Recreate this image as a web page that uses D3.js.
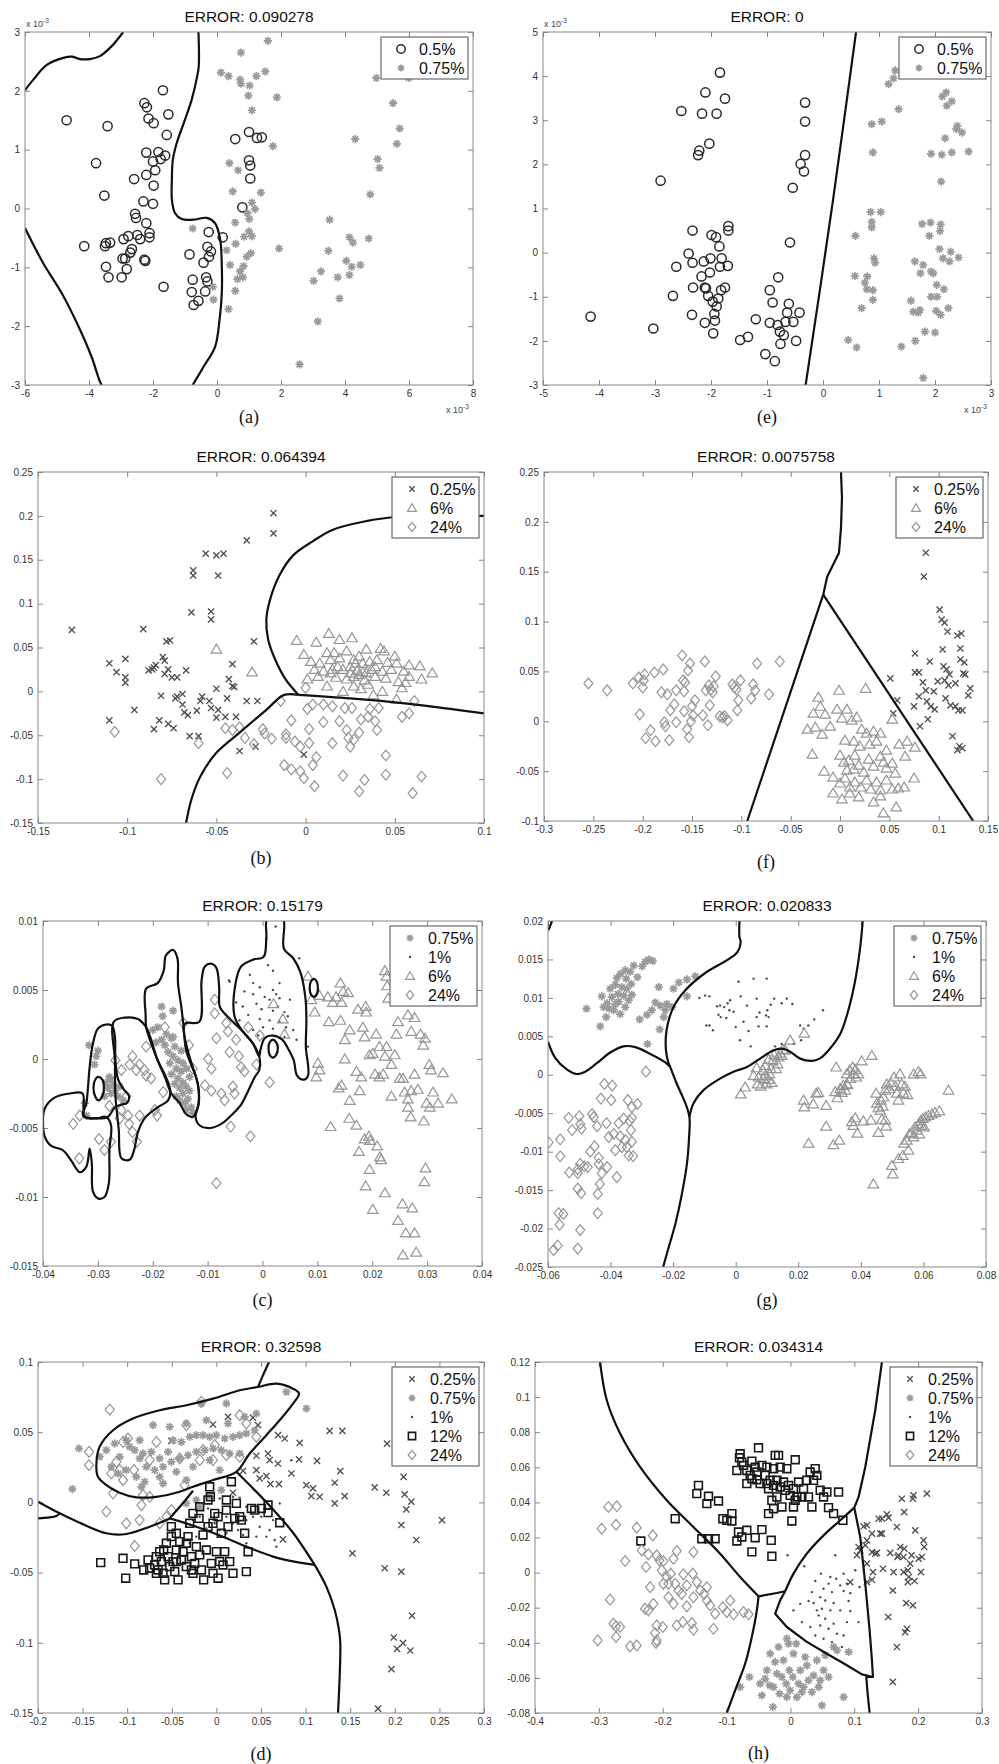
<!DOCTYPE html>
<html><head><meta charset="utf-8">
<script src="https://cdn.jsdelivr.net/npm/d3@7"></script>
<style>body{margin:0;background:#fff}svg{display:block}</style>
</head><body>
<svg id="chart" width="999" height="1764"></svg>
<script>
// ---------------- (a) ----------------
const aXTicks=[-6,-4,-2,0,2,4,6,8];
const aYTicks=[-3,-2,-1,0,1,2,3];
const aCircle=[[-4.70,1.50],[-3.42,1.40],[-3.78,0.77],[-3.52,0.22],[-4.15,-0.64],[-3.47,-0.59],[-3.50,-0.64],[-3.34,-0.58],[-3.47,-0.99],[-3.39,-1.17],[-2.98,-1.17],[-2.82,-1.03],[-2.95,-0.85],[-2.87,-0.85],[-2.92,-0.52],[-2.77,-0.47],[-2.71,-0.75],[-2.66,-0.69],[-2.59,0.50],[-2.56,-0.09],[-2.53,-0.16],[-2.49,-0.45],[-2.40,-0.52],[-2.30,0.12],[-2.27,1.79],[-2.19,1.72],[-2.14,1.53],[-2.21,0.95],[-2.21,0.57],[-2.21,-0.25],[-2.27,-0.87],[-2.24,-0.89],[-2.11,-0.42],[-2.11,-0.49],[-1.98,1.45],[-2.00,0.80],[-1.93,0.65],[-1.98,0.39],[-2.00,0.08],[-1.83,0.96],[-1.76,0.84],[-1.69,2.01],[-1.52,1.60],[-1.57,1.25],[-1.62,0.90],[-1.67,-1.33],[-0.86,-0.78],[-0.76,-1.21],[-0.79,-1.42],[-0.73,-1.64],[-0.58,-1.57],[-0.42,-0.92],[-0.37,-1.41],[-0.34,-1.17],[-0.30,-1.24],[-0.26,-0.40],[-0.30,-0.65],[-0.25,-0.82],[-0.19,-0.73],[0.18,-0.49],[0.57,1.18],[1.00,1.30],[1.25,1.20],[1.40,1.21],[1.00,0.82],[1.04,0.73],[1.04,0.51],[0.79,0.02]];
const aStar=[[0.75,2.65],[1.59,2.85],[0.12,2.31],[0.36,2.25],[0.72,2.19],[0.75,2.12],[1.02,2.09],[1.23,2.25],[1.51,2.33],[0.98,1.92],[1.87,1.89],[1.09,1.67],[1.75,1.06],[0.39,0.77],[0.66,0.65],[0.49,0.29],[1.37,0.27],[1.09,0.10],[1.19,-0.01],[0.95,-0.08],[1.01,-0.18],[0.57,-0.24],[-0.76,-0.34],[1.00,-0.39],[1.09,-0.47],[0.85,-0.48],[0.58,-0.60],[0.30,-0.71],[1.06,-0.76],[0.93,-0.82],[1.94,-0.68],[0.41,-0.96],[0.83,-0.98],[0.72,-1.07],[0.64,-1.20],[0.81,-1.17],[-0.13,-1.33],[-0.11,-1.55],[0.57,-1.40],[0.36,-1.71],[3.52,-0.19],[3.48,-0.72],[3.02,-1.23],[3.25,-1.07],[3.77,-1.17],[3.83,-1.53],[3.15,-1.92],[2.58,-2.65],[4.04,-0.89],[4.14,-0.49],[4.25,-0.58],[4.21,-0.99],[4.14,-1.13],[4.48,-0.96],[4.74,-0.51],[4.79,0.24],[4.32,1.18],[5.02,0.84],[5.08,0.69],[4.98,2.22],[5.50,1.79],[5.62,1.10],[5.71,1.36],[5.99,2.22]];
const aBound1=[[-6.0,2.01],[-5.74,2.19],[-5.32,2.44],[-4.80,2.56],[-4.54,2.58],[-4.28,2.54],[-3.97,2.54],[-3.66,2.59],[-3.29,2.76],[-2.93,3.0]];
const aBound2=[[-6.0,-0.33],[-5.43,-0.93],[-4.85,-1.44],[-4.28,-2.06],[-3.92,-2.52],[-3.66,-2.94],[-3.60,-3.0]];
const aBound3=[[-0.58,3.0],[-0.57,2.42],[-0.63,2.22],[-0.79,1.85],[-1.00,1.51],[-1.26,1.11],[-1.38,0.83],[-1.41,0.49],[-1.41,0.15],[-1.31,-0.08],[-1.10,-0.18],[-0.74,-0.19],[-0.32,-0.16],[-0.06,-0.25],[0.10,-0.53],[0.15,-0.99],[0.15,-1.44],[0.08,-1.89],[-0.06,-2.35],[-0.42,-2.69],[-0.76,-3.0]];

// ---------------- (e) ----------------
const eXTicks=[-5,-4,-3,-2,-1,0,1,2,3];
const eYTicks=[-3,-2,-1,0,1,2,3,4,5];
const eCircle=[[-4.15,-1.45],[-3.03,-1.72],[-2.90,1.63],[-2.68,-0.98],[-2.53,3.21],[-2.62,-0.32],[-2.40,-0.02],[-2.33,0.50],[-2.33,-0.23],[-2.32,-0.79],[-2.34,-1.41],[-2.21,2.31],[-2.23,2.21],[-2.17,-0.54],[-2.16,3.15],[-2.10,3.63],[-2.13,-0.20],[-2.11,-0.79],[-2.09,-0.81],[-2.11,-1.59],[-2.03,2.47],[-2.01,-0.13],[-2.02,-0.45],[-2.05,-0.98],[-1.99,0.40],[-1.97,-1.11],[-1.96,-1.83],[-1.94,-1.39],[-1.93,-1.54],[-1.90,3.15],[-1.91,0.35],[-1.90,-1.22],[-1.87,-1.04],[-1.85,0.14],[-1.84,4.08],[-1.84,-0.32],[-1.81,-0.13],[-1.82,-0.85],[-1.75,3.49],[-1.75,-0.79],[-1.70,-0.30],[-1.69,0.60],[-1.69,0.50],[-1.48,-1.98],[-1.34,-1.91],[-1.20,-1.51],[-1.03,-2.30],[-0.95,-0.85],[-0.95,-1.59],[-0.90,-1.13],[-0.86,-2.46],[-0.80,-0.56],[-0.81,-1.64],[-0.77,-1.79],[-0.76,-2.07],[-0.70,-1.87],[-0.67,-1.57],[-0.64,-1.36],[-0.61,-1.16],[-0.59,0.23],[-0.54,1.47],[-0.53,-1.57],[-0.48,-2.00],[-0.42,-1.36],[-0.40,2.01],[-0.34,1.84],[-0.32,2.21],[-0.32,2.97],[-0.32,3.40]];
const eStar=[[0.45,-1.98],[0.60,-2.15],[0.58,0.38],[0.57,-0.53],[0.69,-1.26],[0.75,-0.68],[0.79,-0.54],[0.78,-0.83],[0.85,0.92],[0.87,0.70],[0.87,0.57],[0.87,2.91],[0.89,2.27],[0.89,-0.85],[0.89,-1.07],[0.91,-0.13],[0.93,-0.23],[1.03,0.92],[1.05,2.97],[1.17,3.82],[1.26,3.95],[1.29,4.13],[1.35,3.25],[1.40,-2.13],[1.57,-1.09],[1.61,-1.34],[1.64,-0.20],[1.65,-2.00],[1.70,-1.36],[1.73,-1.30],[1.74,-0.47],[1.77,0.65],[1.79,-0.28],[1.79,-2.84],[1.82,-1.79],[1.90,0.38],[1.92,0.68],[1.93,2.24],[1.93,-1.00],[1.93,-0.43],[1.97,-0.47],[2.00,-1.81],[2.02,-1.32],[2.03,-0.73],[2.04,-1.00],[2.08,0.08],[2.09,0.49],[2.10,0.64],[2.11,1.61],[2.12,2.22],[2.10,-1.41],[2.13,3.54],[2.14,-0.13],[2.16,-0.83],[2.18,2.59],[2.20,3.63],[2.21,3.33],[2.24,-1.26],[2.26,-0.20],[2.28,0.02],[2.30,2.27],[2.30,3.43],[2.38,2.80],[2.40,2.87],[2.42,-0.11],[2.48,2.72],[2.60,2.29]];
const eBound=[[-0.31,-3],[-0.05,-0.8],[0.18,1.2],[0.43,3.5],[0.59,5]];

// ---------------- (b) ----------------
const bXTicks=[-0.15,-0.1,-0.05,0,0.05,0.1];
const bYTicks=[-0.15,-0.1,-0.05,0,0.05,0.1,0.15,0.2,0.25];
const bCross=[[-0.131,0.070],[-0.110,0.032],[-0.110,-0.033],[-0.106,0.022],[-0.101,0.037],[-0.101,0.016],[-0.101,0.010],[-0.096,-0.021],[-0.091,0.071],[-0.088,0.024],[-0.086,0.025],[-0.085,0.027],[-0.085,-0.043],[-0.084,0.030],[-0.082,-0.033],[-0.081,-0.005],[-0.080,0.039],[-0.079,0.035],[-0.079,0.020],[-0.078,0.057],[-0.076,0.058],[-0.077,0.025],[-0.077,-0.037],[-0.075,0.016],[-0.074,-0.042],[-0.073,-0.008],[-0.072,0.016],[-0.072,-0.006],[-0.069,-0.003],[-0.069,-0.015],[-0.068,-0.024],[-0.067,0.024],[-0.066,-0.027],[-0.065,-0.051],[-0.063,0.138],[-0.063,0.132],[-0.064,0.090],[-0.061,-0.022],[-0.060,-0.051],[-0.059,-0.011],[-0.058,-0.006],[-0.056,0.157],[-0.054,-0.011],[-0.053,-0.019],[-0.053,0.091],[-0.053,0.082],[-0.050,0.003],[-0.050,0.155],[-0.050,-0.030],[-0.049,-0.021],[-0.049,0.132],[-0.046,0.157],[-0.045,-0.029],[-0.044,-0.008],[-0.043,0.014],[-0.041,0.031],[-0.041,0.006],[-0.040,0.005],[-0.039,-0.029],[-0.037,-0.068],[-0.033,0.172],[-0.033,-0.011],[-0.029,0.057],[-0.028,-0.063],[-0.027,-0.011],[-0.018,0.180],[-0.018,0.203],[-0.001,-0.072]];
const bTri=[[-0.050,0.048],[-0.030,0.022],[-0.005,0.058],[-0.001,0.042],[0.006,0.056],[0.013,0.066],[0.019,0.059],[0.026,0.061],[0.012,0.044],[0.016,0.044],[0.023,0.046],[0.034,0.048],[0.042,0.049],[0.044,0.046],[0.003,0.034],[0.008,0.032],[0.014,0.036],[0.019,0.038],[0.027,0.036],[0.030,0.040],[0.036,0.034],[0.040,0.036],[0.046,0.033],[0.051,0.032],[0.058,0.030],[0.064,0.029],[0.005,0.025],[0.010,0.023],[0.015,0.025],[0.021,0.025],[0.025,0.028],[0.029,0.024],[0.032,0.022],[0.037,0.025],[0.043,0.023],[0.048,0.025],[0.055,0.023],[0.071,0.021],[0.001,0.014],[0.007,0.017],[0.012,0.006],[0.017,0.016],[0.023,0.014],[0.027,0.017],[0.033,0.013],[0.039,0.017],[0.045,0.015],[0.052,0.011],[0.056,0.010],[0.065,0.014],[0.021,0.000],[0.027,0.006],[0.031,0.003],[0.035,0.008],[0.038,-0.004],[0.043,0.000],[0.051,-0.009],[0.054,0.004],[0.030,0.019],[0.034,0.021],[0.025,0.021],[0.014,0.021],[0.018,0.028],[0.032,0.032],[0.028,0.032],[0.039,0.028],[0.050,0.040],[0.058,0.017]];
const bDiam=[[-0.107,-0.046],[-0.081,-0.100],[-0.060,-0.059],[-0.045,-0.042],[-0.044,-0.093],[-0.041,-0.044],[-0.037,-0.041],[-0.034,-0.053],[-0.029,-0.060],[-0.024,-0.043],[-0.023,-0.048],[-0.019,-0.054],[-0.014,-0.011],[-0.011,-0.049],[-0.011,-0.053],[-0.008,-0.033],[-0.012,-0.084],[-0.008,-0.089],[-0.006,-0.057],[-0.003,-0.091],[-0.001,-0.099],[-0.003,-0.063],[0.000,0.004],[0.001,-0.020],[0.002,-0.043],[0.002,-0.059],[0.004,-0.015],[0.004,-0.084],[0.005,-0.108],[0.006,-0.075],[0.010,-0.035],[0.010,-0.015],[0.015,-0.017],[0.015,-0.059],[0.019,-0.034],[0.021,-0.096],[0.022,-0.019],[0.023,-0.044],[0.024,-0.053],[0.025,-0.063],[0.026,-0.019],[0.027,-0.055],[0.030,-0.047],[0.030,-0.114],[0.031,-0.032],[0.033,-0.101],[0.035,-0.029],[0.036,-0.020],[0.039,-0.034],[0.040,-0.044],[0.041,-0.019],[0.045,-0.073],[0.045,-0.095],[0.054,-0.029],[0.058,-0.025],[0.061,-0.011],[0.060,-0.116],[0.065,-0.097]];
const bBoundArc=[[0.100,0.200],[0.071,0.200],[0.060,0.200],[0.051,0.199],[0.034,0.194],[0.015,0.184],[0.004,0.171],[-0.007,0.155],[-0.015,0.131],[-0.020,0.104],[-0.022,0.082],[-0.021,0.059],[-0.017,0.036],[-0.011,0.013],[-0.004,-0.004]];
const bBoundRight=[[-0.004,-0.004],[0.025,-0.008],[0.053,-0.013],[0.081,-0.020],[0.100,-0.025]];
const bBoundLeft=[[-0.004,-0.004],[-0.012,-0.004],[-0.022,-0.021],[-0.037,-0.047],[-0.050,-0.070],[-0.059,-0.097],[-0.064,-0.123],[-0.067,-0.150]];

// ---------------- (f) ----------------
const fXTicks=[-0.3,-0.25,-0.2,-0.15,-0.1,-0.05,0,0.05,0.1,0.15];
const fYTicks=[-0.1,-0.05,0,0.05,0.1,0.15,0.2,0.25];
const fCross=[[0.051,0.043],[0.054,0.008],[0.058,0.021],[0.076,0.068],[0.076,0.049],[0.075,0.015],[0.080,0.025],[0.080,0.049],[0.081,-0.005],[0.084,0.039],[0.085,0.145],[0.087,0.169],[0.087,0.031],[0.088,0.020],[0.089,0.002],[0.091,0.060],[0.092,0.015],[0.095,0.030],[0.096,0.012],[0.099,0.040],[0.101,0.112],[0.103,0.102],[0.104,0.072],[0.105,0.055],[0.106,0.041],[0.106,0.099],[0.107,0.023],[0.108,0.052],[0.109,0.090],[0.110,0.036],[0.111,0.047],[0.112,0.016],[0.114,-0.015],[0.117,0.015],[0.117,0.038],[0.119,-0.029],[0.119,0.086],[0.120,0.011],[0.121,-0.025],[0.122,0.073],[0.122,0.062],[0.123,0.088],[0.124,-0.027],[0.124,0.011],[0.125,0.048],[0.126,0.059],[0.127,0.047],[0.130,0.026],[0.132,0.033]];
const fTri=[[-0.001,0.031],[0.026,0.033],[-0.022,0.024],[-0.020,0.015],[-0.027,0.008],[-0.015,0.007],[-0.033,-0.008],[-0.025,-0.006],[-0.018,-0.013],[-0.010,-0.005],[-0.003,0.012],[0.002,0.003],[0.007,0.012],[0.012,0.001],[0.017,0.004],[0.022,-0.008],[0.027,-0.012],[0.034,-0.010],[0.041,-0.012],[0.053,0.002],[0.005,-0.019],[0.014,-0.020],[0.020,-0.025],[0.030,-0.023],[0.037,-0.020],[0.047,-0.029],[0.060,-0.023],[0.068,-0.020],[0.076,-0.026],[0.066,-0.035],[-0.028,-0.033],[-0.016,-0.050],[0.000,-0.034],[0.004,-0.041],[0.009,-0.039],[0.014,-0.048],[0.019,-0.044],[0.024,-0.051],[0.029,-0.038],[0.034,-0.045],[0.041,-0.035],[0.044,-0.041],[0.047,-0.047],[0.053,-0.042],[0.056,-0.052],[0.000,-0.062],[0.005,-0.057],[0.010,-0.066],[0.015,-0.061],[0.021,-0.066],[0.027,-0.059],[0.031,-0.068],[0.037,-0.061],[0.041,-0.069],[0.047,-0.059],[0.053,-0.068],[0.059,-0.067],[0.065,-0.066],[0.075,-0.057],[0.002,-0.078],[0.010,-0.072],[0.019,-0.076],[0.034,-0.081],[0.044,-0.092],[0.057,-0.086],[0.041,-0.075],[-0.007,-0.056],[-0.007,-0.072],[0.015,-0.034],[0.007,-0.049]];
const fDiam=[[-0.255,0.038],[-0.236,0.031],[-0.210,0.038],[-0.204,0.044],[-0.203,0.007],[-0.200,0.034],[-0.199,0.041],[-0.198,0.047],[-0.197,-0.017],[-0.192,-0.009],[-0.188,0.049],[-0.187,-0.020],[-0.181,0.029],[-0.179,0.052],[-0.178,-0.001],[-0.177,-0.005],[-0.175,0.027],[-0.173,-0.019],[-0.172,0.011],[-0.168,0.017],[-0.166,0.031],[-0.166,-0.001],[-0.160,0.066],[-0.159,0.041],[-0.158,0.030],[-0.158,0.010],[-0.157,0.039],[-0.155,-0.008],[-0.154,0.051],[-0.153,-0.016],[-0.152,0.058],[-0.151,0.000],[-0.150,0.015],[-0.149,0.006],[-0.147,0.021],[-0.139,0.006],[-0.137,0.060],[-0.136,0.031],[-0.134,-0.004],[-0.133,0.036],[-0.132,0.016],[-0.131,0.032],[-0.129,0.029],[-0.128,0.035],[-0.126,0.045],[-0.122,0.005],[-0.119,0.004],[-0.117,0.005],[-0.114,0.001],[-0.109,0.037],[-0.107,0.034],[-0.105,0.032],[-0.104,0.011],[-0.103,0.021],[-0.101,0.041],[-0.090,0.023],[-0.088,0.037],[-0.086,0.031],[-0.084,0.058],[-0.072,0.027],[-0.061,0.060]];
const fBoundTop=[[0.001,0.25],[0.002,0.224],[0.001,0.194],[-0.001,0.169],[-0.007,0.157],[-0.013,0.145],[-0.017,0.127]];
const fBoundLeft=[[-0.017,0.127],[-0.094,-0.1]];
const fBoundRight=[[-0.017,0.127],[0.135,-0.1]];

// ---------------- (c) ----------------
const cXTicks=[-0.04,-0.03,-0.02,-0.01,0,0.01,0.02,0.03,0.04];
const cYTicks=[-0.015,-0.01,-0.005,0,0.005,0.01];
const cStar=[[-0.0316,0.0010],[-0.0303,0.0002],[-0.0306,-0.0004],[-0.0279,-0.0013],[-0.0276,-0.0015],[-0.0285,-0.0017],[-0.0272,-0.0019],[-0.0282,-0.0021],[-0.0269,-0.0023],[-0.0276,-0.0025],[-0.0263,-0.0027],[-0.0288,-0.0027],[-0.0260,-0.0020],[-0.0254,-0.0030],[-0.0300,0.0006],[-0.0324,-0.0032],[-0.0321,-0.0041],[-0.0184,0.0038],[-0.0163,0.0035],[-0.0182,0.0031],[-0.0191,0.0023],[-0.0200,0.0021],[-0.0175,0.0018],[-0.0184,0.0014],[-0.0166,0.0015],[-0.0178,0.0010],[-0.0160,0.0009],[-0.0172,0.0005],[-0.0163,0.0002],[-0.0154,-0.0001],[-0.0169,-0.0003],[-0.0157,-0.0007],[-0.0166,-0.0011],[-0.0148,-0.0009],[-0.0154,-0.0014],[-0.0145,-0.0017],[-0.0160,-0.0018],[-0.0151,-0.0021],[-0.0139,-0.0020],[-0.0145,-0.0025],[-0.0136,-0.0029],[-0.0151,-0.0030],[-0.0130,-0.0035],[-0.0139,-0.0037],[-0.0127,-0.0039],[-0.0142,-0.0032],[-0.0194,0.0012],[-0.0139,-0.0007],[-0.0163,0.0016],[-0.0133,-0.0023],[-0.0148,0.0006],[-0.0133,-0.0013],[-0.0157,-0.0027],[-0.0145,-0.0003]];
const cDot=[[0.0010,0.0068],[-0.0023,0.0061],[-0.0017,0.0055],[-0.0005,0.0052],[0.0019,0.0050],[0.0025,0.0047],[0.0004,0.0045],[0.0013,0.0043],[0.0031,0.0044],[-0.0011,0.0040],[-0.0036,0.0038],[-0.0002,0.0036],[0.0019,0.0035],[0.0040,0.0034],[0.0046,0.0031],[-0.0026,0.0032],[-0.0005,0.0029],[0.0013,0.0028],[0.0031,0.0027],[0.0043,0.0023],[0.0056,0.0021],[-0.0042,0.0028],[0.0001,0.0023],[0.0019,0.0022],[-0.0017,0.0021],[-0.0008,0.0017],[0.0040,0.0016],[0.0062,0.0014],[0.0080,0.0009],[0.0019,0.0064],[-0.0033,0.0049],[-0.0048,0.0041],[-0.0060,0.0056],[-0.0017,0.0047],[0.0031,0.0055],[0.0050,0.0043],[0.0028,0.0038],[0.0024,0.0096],[0.0007,0.0087],[0.0067,0.0073],[-0.0061,0.0057],[0.0083,0.0009]];
const cTri=[[0.0083,0.0060],[0.0089,0.0043],[0.0095,0.0034],[0.0104,0.0046],[0.0121,0.0027],[0.0119,0.0045],[0.0128,0.0041],[0.0134,0.0045],[0.0142,0.0055],[0.0144,0.0041],[0.0147,0.0049],[0.0156,0.0048],[0.0142,0.0028],[0.0150,0.0014],[0.0159,0.0021],[0.0150,0.0000],[0.0174,0.0036],[0.0183,0.0023],[0.0188,0.0038],[0.0189,0.0034],[0.0186,0.0016],[0.0207,0.0018],[0.0195,0.0003],[0.0201,0.0004],[0.0213,0.0009],[0.0223,0.0002],[0.0226,0.0009],[0.0235,-0.0004],[0.0241,0.0003],[0.0244,0.0018],[0.0247,0.0027],[0.0265,0.0032],[0.0277,0.0030],[0.0271,0.0020],[0.0288,0.0018],[0.0293,0.0010],[0.0296,0.0015],[0.0223,0.0064],[0.0226,0.0060],[0.0227,0.0053],[0.0229,0.0044],[0.0171,-0.0009],[0.0180,-0.0013],[0.0205,-0.0011],[0.0213,-0.0013],[0.0220,-0.0011],[0.0250,-0.0014],[0.0256,-0.0014],[0.0277,-0.0011],[0.0304,-0.0004],[0.0307,-0.0008],[0.0329,-0.0010],[0.0139,-0.0021],[0.0144,-0.0019],[0.0177,-0.0023],[0.0159,-0.0030],[0.0235,-0.0027],[0.0259,-0.0024],[0.0265,-0.0029],[0.0271,-0.0023],[0.0283,-0.0022],[0.0265,-0.0035],[0.0270,-0.0042],[0.0299,-0.0032],[0.0305,-0.0035],[0.0311,-0.0024],[0.0320,-0.0032],[0.0345,-0.0029],[0.0294,-0.0045],[0.0124,-0.0049],[0.0158,-0.0043],[0.0171,-0.0048],[0.0176,-0.0067],[0.0186,-0.0058],[0.0194,-0.0056],[0.0196,-0.0059],[0.0209,-0.0063],[0.0214,-0.0071],[0.0216,-0.0073],[0.0195,-0.0080],[0.0188,-0.0092],[0.0223,-0.0097],[0.0201,-0.0109],[0.0255,-0.0105],[0.0273,-0.0108],[0.0247,-0.0117],[0.0261,-0.0126],[0.0277,-0.0126],[0.0256,-0.0142],[0.0280,-0.0140],[0.0297,-0.0079],[0.0295,-0.0089],[0.0101,-0.0003],[0.0104,-0.0008],[0.0098,-0.0013],[0.0040,0.0018],[0.0037,0.0029],[0.0020,0.0040]];
const cDiam=[[-0.0345,-0.0047],[-0.0333,-0.0041],[-0.0334,-0.0072],[-0.0298,-0.0058],[-0.0288,-0.0066],[-0.0260,-0.0043],[-0.0257,-0.0037],[-0.0245,-0.0041],[-0.0237,-0.0053],[-0.0229,-0.0060],[-0.0224,-0.0041],[-0.0212,0.0009],[-0.0237,0.0002],[-0.0242,-0.0004],[-0.0230,-0.0008],[-0.0224,-0.0004],[-0.0212,-0.0012],[-0.0203,-0.0014],[-0.0215,-0.0008],[-0.0257,-0.0008],[-0.0248,-0.0027],[-0.0192,-0.0041],[-0.0196,-0.0037],[-0.0181,-0.0024],[-0.0178,0.0023],[-0.0144,0.0026],[-0.0134,0.0010],[-0.0127,-0.0007],[-0.0105,-0.0019],[-0.0099,0.0000],[-0.0093,-0.0007],[-0.0093,-0.0023],[-0.0087,0.0043],[-0.0087,0.0033],[-0.0084,0.0015],[-0.0075,-0.0025],[-0.0069,-0.0030],[-0.0066,0.0026],[-0.0063,0.0020],[-0.0060,0.0005],[-0.0054,-0.0020],[-0.0051,-0.0025],[-0.0048,0.0014],[-0.0043,0.0002],[-0.0039,-0.0006],[-0.0033,-0.0009],[-0.0026,0.0023],[-0.0005,0.0017],[0.0013,-0.0017],[-0.0011,-0.0004],[-0.0058,-0.0049],[-0.0022,-0.0056],[-0.0084,-0.0090],[-0.0268,-0.0001],[-0.0279,-0.0034],[-0.0243,-0.0047],[-0.0276,-0.0060]];
const cBoundA=[[-0.0397,-0.0036],[-0.0379,-0.0028],[-0.0351,-0.0025],[-0.0328,-0.0025],[-0.0324,-0.0042],[-0.0303,-0.0043],[-0.0285,-0.0042],[-0.0276,-0.0048],[-0.0279,-0.0066],[-0.0280,-0.0090],[-0.0288,-0.0100],[-0.0300,-0.0101],[-0.0309,-0.0096],[-0.0311,-0.0076],[-0.0315,-0.0065],[-0.0321,-0.0078],[-0.0333,-0.0082],[-0.0348,-0.0074],[-0.0364,-0.0066],[-0.0385,-0.0063],[-0.0397,-0.0056],[-0.0400,-0.0046]];
const cBoundB=[[-0.0327,-0.0041],[-0.0321,-0.0032],[-0.0315,-0.0006],[-0.0310,0.0009],[-0.0300,0.0022],[-0.0285,0.0025],[-0.0274,0.0024],[-0.0269,0.0016],[-0.0268,-0.0001],[-0.0263,-0.0015],[-0.0251,-0.0023],[-0.0243,-0.0027],[-0.0247,-0.0032],[-0.0257,-0.0033],[-0.0269,-0.0035],[-0.0282,-0.0042],[-0.0303,-0.0043]];
const cHole1=[[-0.0299,-0.0013],[-0.0292,-0.0015],[-0.0289,-0.0021],[-0.0292,-0.0027],[-0.0299,-0.0030],[-0.0305,-0.0027],[-0.0308,-0.0021],[-0.0305,-0.0015]];
const cBoundC=[[-0.0271,0.0027],[-0.0251,0.0030],[-0.0227,0.0029],[-0.0212,0.0023],[-0.0203,0.0014],[-0.0191,-0.0001],[-0.0176,-0.0013],[-0.0168,-0.0023],[-0.0172,-0.0030],[-0.0191,-0.0035],[-0.0215,-0.0043],[-0.0227,-0.0053],[-0.0234,-0.0066],[-0.0242,-0.0073],[-0.0257,-0.0072],[-0.0262,-0.0051],[-0.0268,-0.0027],[-0.0269,-0.0001]];
const cBoundD=[[-0.0213,0.0032],[-0.0212,0.0051],[-0.0191,0.0055],[-0.0180,0.0064],[-0.0176,0.0075],[-0.0163,0.0079],[-0.0155,0.0073],[-0.0154,0.0055],[-0.0148,0.0038],[-0.0144,0.0024],[-0.0139,0.0006],[-0.0128,-0.0006],[-0.0121,-0.0013],[-0.0116,-0.0023],[-0.0118,-0.0035],[-0.0127,-0.0042],[-0.0139,-0.0040],[-0.0151,-0.0032],[-0.0166,-0.0025],[-0.0178,-0.0013],[-0.0194,0.0002],[-0.0206,0.0015],[-0.0212,0.0023]];
const cBoundE=[[-0.0140,0.0026],[-0.0115,0.0027],[-0.0111,0.0057],[-0.0105,0.0067],[-0.0093,0.0069],[-0.0084,0.0066],[-0.0079,0.0052],[-0.0078,0.0038],[-0.0069,0.0033],[-0.0054,0.0027],[-0.0036,0.0020],[-0.0017,0.0011],[-0.0006,0.0002],[-0.0006,-0.0008],[-0.0014,-0.0013],[-0.0026,-0.0023],[-0.0039,-0.0033],[-0.0060,-0.0042],[-0.0075,-0.0047],[-0.0096,-0.0050],[-0.0115,-0.0048],[-0.0122,-0.0042],[-0.0116,-0.0032],[-0.0118,-0.0018],[-0.0127,-0.0006],[-0.0136,0.0006],[-0.0144,0.0023]];
const cBoundF=[[-0.0051,0.0031],[-0.0049,0.0055],[-0.0039,0.0067],[-0.0017,0.0072],[0.0002,0.0074],[0.0007,0.0088],[0.0009,0.0102],[0.0037,0.0102],[0.0039,0.0080],[0.0056,0.0073],[0.0069,0.0063],[0.0078,0.0045],[0.0080,0.0028],[0.0079,0.0009],[0.0083,-0.0012],[0.0075,-0.0015],[0.0063,-0.0012],[0.0057,-0.0001],[0.0046,0.0008],[0.0036,0.0014],[0.0019,0.0017],[0.0004,0.0015],[-0.0004,0.0006],[-0.0006,0.0002],[-0.0017,0.0011],[-0.0036,0.0020]];
const cHole2=[[0.0094,0.0058],[0.0099,0.0056],[0.0101,0.0051],[0.0099,0.0047],[0.0094,0.0045],[0.0088,0.0047],[0.0086,0.0051],[0.0088,0.0056]];
const cHole3=[[0.0019,0.0014],[0.0025,0.0012],[0.0028,0.0008],[0.0025,0.0003],[0.0019,0.0001],[0.0013,0.0003],[0.0011,0.0008],[0.0013,0.0012]];

// ---------------- (g) ----------------
const gXTicks=[-0.06,-0.04,-0.02,0,0.02,0.04,0.06,0.08];
const gYTicks=[-0.025,-0.02,-0.015,-0.01,-0.005,0,0.005,0.01,0.015,0.02];
const gStar=[[-0.0477,0.0086],[-0.0433,0.0063],[-0.0428,0.0102],[-0.0414,0.0075],[-0.0411,0.0093],[-0.0401,0.0112],[-0.0396,0.0101],[-0.0390,0.0084],[-0.0385,0.0117],[-0.0377,0.0105],[-0.0374,0.0095],[-0.0369,0.0131],[-0.0369,0.0079],[-0.0364,0.0114],[-0.0358,0.0103],[-0.0353,0.0136],[-0.0350,0.0125],[-0.0348,0.0112],[-0.0342,0.0097],[-0.0337,0.0134],[-0.0334,0.0118],[-0.0326,0.0142],[-0.0353,0.0088],[-0.0307,0.0072],[-0.0314,0.0127],[-0.0299,0.0141],[-0.0289,0.0147],[-0.0278,0.0150],[-0.0265,0.0148],[-0.0284,0.0078],[-0.0282,0.0040],[-0.0268,0.0084],[-0.0257,0.0094],[-0.0246,0.0114],[-0.0241,0.0090],[-0.0243,0.0059],[-0.0230,0.0075],[-0.0225,0.0084],[-0.0220,0.0092],[-0.0204,0.0088],[-0.0199,0.0112],[-0.0182,0.0120],[-0.0156,0.0124],[-0.0129,0.0128],[-0.0156,0.0102],[-0.0422,0.0088],[-0.0385,0.0092],[-0.0404,0.0086],[-0.0380,0.0126],[-0.0332,0.0104]];
const gDot=[[-0.0116,0.0100],[-0.0098,0.0103],[-0.0084,0.0102],[-0.0060,0.0089],[-0.0050,0.0090],[-0.0037,0.0088],[-0.0026,0.0093],[-0.0018,0.0097],[-0.0007,0.0082],[-0.0055,0.0078],[-0.0048,0.0075],[-0.0020,0.0084],[-0.0094,0.0064],[-0.0084,0.0064],[-0.0073,0.0058],[-0.0030,0.0074],[0.0000,0.0062],[0.0009,0.0121],[0.0016,0.0102],[0.0025,0.0069],[0.0014,0.0045],[0.0048,0.0037],[0.0041,0.0057],[0.0057,0.0125],[0.0067,0.0099],[0.0067,0.0075],[0.0073,0.0063],[0.0076,0.0081],[0.0099,0.0125],[0.0101,0.0084],[0.0105,0.0075],[0.0099,0.0063],[0.0123,0.0099],[0.0147,0.0093],[0.0163,0.0099],[0.0181,0.0092],[0.0112,0.0091],[0.0097,0.0077],[0.0206,0.0064],[0.0217,0.0060],[0.0232,0.0064],[0.0251,0.0072],[0.0279,0.0084],[0.0209,0.0045],[0.0185,0.0040],[0.0147,0.0040],[0.0166,0.0032],[0.0126,0.0037],[0.0036,0.0090]];
const gTri=[[0.0016,-0.0025],[0.0030,-0.0016],[0.0057,-0.0001],[0.0067,0.0009],[0.0073,-0.0003],[0.0080,-0.0015],[0.0087,0.0006],[0.0089,-0.0005],[0.0094,0.0012],[0.0099,-0.0012],[0.0105,0.0020],[0.0108,0.0001],[0.0112,0.0008],[0.0115,-0.0010],[0.0119,0.0019],[0.0123,0.0026],[0.0129,0.0008],[0.0134,0.0014],[0.0137,0.0023],[0.0142,0.0028],[0.0147,0.0025],[0.0151,0.0033],[0.0158,0.0032],[0.0174,0.0045],[0.0219,0.0054],[0.0094,-0.0001],[0.0105,-0.0006],[0.0070,-0.0012],[0.0217,-0.0033],[0.0219,-0.0042],[0.0233,-0.0089],[0.0248,-0.0038],[0.0257,-0.0024],[0.0264,-0.0023],[0.0289,-0.0067],[0.0289,-0.0040],[0.0312,-0.0091],[0.0318,-0.0022],[0.0321,0.0010],[0.0325,-0.0030],[0.0331,-0.0085],[0.0334,-0.0018],[0.0339,-0.0023],[0.0344,-0.0014],[0.0350,-0.0020],[0.0355,0.0001],[0.0357,-0.0013],[0.0364,0.0006],[0.0366,-0.0005],[0.0374,0.0010],[0.0376,0.0001],[0.0382,0.0007],[0.0385,-0.0003],[0.0392,0.0001],[0.0371,-0.0061],[0.0376,-0.0066],[0.0382,-0.0056],[0.0389,-0.0076],[0.0403,0.0018],[0.0408,-0.0060],[0.0432,-0.0059],[0.0435,0.0025],[0.0355,-0.0012],[0.0440,-0.0142],[0.0449,-0.0024],[0.0451,-0.0037],[0.0456,-0.0043],[0.0456,-0.0075],[0.0462,-0.0046],[0.0464,-0.0033],[0.0467,-0.0058],[0.0470,-0.0041],[0.0472,-0.0029],[0.0478,-0.0020],[0.0478,-0.0059],[0.0481,-0.0067],[0.0483,-0.0012],[0.0491,-0.0018],[0.0496,-0.0010],[0.0499,-0.0118],[0.0502,-0.0129],[0.0506,-0.0003],[0.0510,-0.0015],[0.0515,-0.0024],[0.0520,-0.0033],[0.0525,0.0001],[0.0531,-0.0012],[0.0536,-0.0024],[0.0541,-0.0015],[0.0549,-0.0026],[0.0569,0.0001],[0.0584,0.0004],[0.0591,0.0001],[0.0680,-0.0020],[0.0520,-0.0109],[0.0534,-0.0105],[0.0538,-0.0089],[0.0547,-0.0085],[0.0552,-0.0098],[0.0555,-0.0077],[0.0563,-0.0075],[0.0568,-0.0081],[0.0573,-0.0068],[0.0579,-0.0072],[0.0584,-0.0064],[0.0587,-0.0077],[0.0591,-0.0060],[0.0598,-0.0057],[0.0602,-0.0068],[0.0606,-0.0055],[0.0616,-0.0053],[0.0627,-0.0051],[0.0637,-0.0049],[0.0651,-0.0047],[0.0594,-0.0066]];
const gDiam=[[-0.0287,0.0004],[-0.0598,-0.0088],[-0.0561,-0.0084],[-0.0561,-0.0106],[-0.0534,-0.0056],[-0.0532,-0.0127],[-0.0523,-0.0072],[-0.0500,-0.0054],[-0.0497,-0.0064],[-0.0493,-0.0070],[-0.0497,-0.0116],[-0.0505,-0.0123],[-0.0505,-0.0128],[-0.0484,-0.0119],[-0.0473,-0.0120],[-0.0505,-0.0148],[-0.0494,-0.0154],[-0.0551,-0.0181],[-0.0563,-0.0195],[-0.0566,-0.0180],[-0.0497,-0.0202],[-0.0505,-0.0226],[-0.0569,-0.0222],[-0.0582,-0.0228],[-0.0465,-0.0100],[-0.0459,-0.0051],[-0.0454,-0.0055],[-0.0451,-0.0093],[-0.0443,-0.0067],[-0.0438,-0.0108],[-0.0438,-0.0116],[-0.0434,-0.0142],[-0.0441,-0.0155],[-0.0441,-0.0180],[-0.0431,-0.0031],[-0.0428,-0.0128],[-0.0420,-0.0012],[-0.0413,-0.0063],[-0.0411,-0.0120],[-0.0406,-0.0081],[-0.0398,-0.0033],[-0.0395,-0.0014],[-0.0390,-0.0077],[-0.0385,-0.0098],[-0.0380,-0.0133],[-0.0374,-0.0063],[-0.0369,-0.0080],[-0.0364,-0.0094],[-0.0358,-0.0057],[-0.0353,-0.0085],[-0.0348,-0.0094],[-0.0345,-0.0033],[-0.0339,-0.0060],[-0.0335,-0.0072],[-0.0332,-0.0087],[-0.0328,-0.0106],[-0.0332,-0.0042],[-0.0314,-0.0038],[-0.0332,-0.0056],[-0.0342,-0.0105]];
const gBoundCorner=[[-0.0599,0.0188],[-0.0587,0.0200]];
const gBoundLeft=[[-0.0600,0.0043],[-0.0577,0.0022],[-0.0540,0.0007],[-0.0508,0.0001],[-0.0481,0.0004],[-0.0444,0.0015],[-0.0401,0.0029],[-0.0359,0.0037],[-0.0321,0.0036],[-0.0273,0.0027],[-0.0225,0.0016],[-0.0209,0.0010]];
const gBoundTop=[[0.0012,0.0200],[0.0012,0.0179],[0.0016,0.0173],[0.0006,0.0160],[-0.0028,0.0149],[-0.0092,0.0134],[-0.0161,0.0110],[-0.0199,0.0088],[-0.0221,0.0058],[-0.0223,0.0032],[-0.0216,0.0017],[-0.0209,0.0010]];
const gBoundDown=[[-0.0209,0.0010],[-0.0188,-0.0012],[-0.0161,-0.0037],[-0.0148,-0.0055],[-0.0149,-0.0081],[-0.0156,-0.0116],[-0.0172,-0.0155],[-0.0193,-0.0194],[-0.0214,-0.0224],[-0.0232,-0.0250]];
const gBoundRight=[[-0.0148,-0.0055],[-0.0135,-0.0037],[-0.0103,-0.0020],[-0.0050,-0.0005],[-0.0007,0.0004],[0.0036,0.0010],[0.0078,0.0021],[0.0121,0.0032],[0.0147,0.0034],[0.0174,0.0030],[0.0206,0.0021],[0.0243,0.0018],[0.0268,0.0021],[0.0297,0.0032],[0.0334,0.0053],[0.0360,0.0084],[0.0382,0.0123],[0.0398,0.0166],[0.0406,0.0200]];

// ---------------- (d) ----------------
const dXTicks=[-0.2,-0.15,-0.1,-0.05,0,0.05,0.1,0.15,0.2,0.25,0.3];
const dYTicks=[-0.15,-0.1,-0.05,0,0.05,0.1];
const dCross=[[-0.0038,0.0555],[-0.0505,0.0438],[0.0130,0.0609],[0.0410,0.0604],[0.0466,0.0550],[0.0691,0.0479],[0.0766,0.0455],[0.0934,0.0424],[0.1270,0.0509],[0.1412,0.0509],[0.1913,0.0419],[0.0448,0.0332],[0.0597,0.0301],[0.0691,0.0277],[0.0926,0.0306],[0.1128,0.0296],[0.0841,0.0206],[0.0605,0.0130],[0.0702,0.0130],[0.1008,0.0123],[0.1083,0.0100],[0.1064,0.0045],[0.1158,0.0040],[0.1326,0.0140],[0.1389,0.0223],[0.1438,0.0045],[0.1326,-0.0007],[0.1774,0.0107],[0.1905,0.0069],[0.2099,0.0182],[0.2110,0.0057],[0.2185,0.0005],[0.2129,-0.0050],[0.2073,-0.0161],[0.2241,-0.0268],[0.2529,-0.0126],[0.1525,-0.0363],[0.1887,-0.0469],[0.2073,-0.0493],[0.2193,-0.0806],[0.1988,-0.0962],[0.2025,-0.1043],[0.2092,-0.1002],[0.2174,-0.1055],[0.1962,-0.1187],[0.1812,-0.1469],[0.0746,-0.0263],[0.0186,0.0069],[0.0560,0.0187],[0.0485,0.0171],[0.0299,0.0225],[0.0448,0.0230],[0.0578,0.0348]];
const dStar=[[-0.1541,0.0384],[-0.1615,0.0095],[0.0785,0.0787],[0.1009,0.0668],[-0.0169,0.0704],[0.0112,0.0704],[-0.0710,0.0550],[-0.1140,0.0419],[-0.1010,0.0443],[-0.0916,0.0372],[-0.0823,0.0348],[-0.0729,0.0360],[-0.0636,0.0313],[-0.0542,0.0360],[-0.0486,0.0443],[-0.0392,0.0431],[-0.0299,0.0467],[-0.0225,0.0479],[-0.0150,0.0479],[-0.0075,0.0467],[-0.0001,0.0479],[0.0093,0.0455],[0.0186,0.0467],[0.0261,0.0479],[0.0336,0.0491],[0.0130,0.0562],[-0.0113,0.0585],[-0.0337,0.0562],[-0.0523,0.0538],[-0.1084,0.0325],[-0.1178,0.0254],[-0.1103,0.0206],[-0.1010,0.0230],[-0.0860,0.0313],[-0.0785,0.0254],[-0.0692,0.0230],[-0.0598,0.0254],[-0.0505,0.0289],[-0.0411,0.0313],[-0.0318,0.0336],[-0.0225,0.0360],[-0.0131,0.0372],[-0.0038,0.0384],[0.0055,0.0372],[0.0149,0.0348],[-0.0898,0.0182],[-0.0804,0.0147],[-0.0636,0.0182],[-0.0449,0.0218],[-0.0262,0.0254],[-0.0075,0.0301],[-0.0841,0.0111],[-0.0598,0.0135],[-0.0337,0.0159],[-0.0225,0.0017],[-0.0075,0.0040],[0.0055,0.0088],[-0.0187,-0.0031],[0.0036,0.0230],[-0.0972,0.0396],[-0.0860,0.0443],[0.0317,0.0609],[0.0448,0.0633],[0.0429,0.0514],[-0.0337,-0.0007],[0.0261,0.0348],[-0.1308,0.0325],[-0.1234,0.0372]];
const dDot=[[0.0261,0.0033],[0.0336,-0.0031],[0.0411,-0.0102],[0.0485,-0.0173],[0.0597,-0.0197],[0.0653,-0.0268],[0.0560,-0.0244],[0.0112,-0.0102],[0.0186,-0.0149],[0.0112,-0.0220],[0.0243,-0.0197],[0.0299,-0.0232],[-0.0019,-0.0149],[0.0037,-0.0197],[-0.0113,-0.0185],[-0.0187,-0.0102],[-0.0262,-0.0126],[-0.0337,-0.0173],[-0.0225,-0.0244],[-0.0299,-0.0291],[0.0336,-0.0126],[0.0448,-0.0244],[0.0149,-0.0031],[0.0224,-0.0102],[0.0504,-0.0102],[0.0635,-0.0126],[0.0710,-0.0007],[0.0841,0.0301],[0.0673,-0.0315],[0.0186,0.0040],[0.0037,0.0028],[-0.0094,-0.0043],[0.0336,-0.0291]];
const dSquare=[[-0.1297,-0.0429],[-0.1047,-0.0398],[-0.1017,-0.0540],[-0.0916,-0.0438],[-0.0815,-0.0481],[-0.0766,-0.0410],[-0.0748,-0.0469],[-0.0692,-0.0445],[-0.0673,-0.0386],[-0.0654,-0.0481],[-0.0636,-0.0351],[-0.0617,-0.0422],[-0.0598,-0.0505],[-0.0580,-0.0552],[-0.0591,-0.0339],[-0.0561,-0.0291],[-0.0542,-0.0386],[-0.0523,-0.0457],[-0.0505,-0.0244],[-0.0505,-0.0173],[-0.0486,-0.0422],[-0.0467,-0.0493],[-0.0449,-0.0339],[-0.0449,-0.0220],[-0.0430,-0.0552],[-0.0411,-0.0280],[-0.0392,-0.0410],[-0.0374,-0.0351],[-0.0337,-0.0457],[-0.0318,-0.0244],[-0.0299,-0.0149],[-0.0280,-0.0386],[-0.0262,-0.0505],[-0.0243,-0.0434],[-0.0225,-0.0315],[-0.0195,-0.0114],[-0.0187,-0.0374],[-0.0168,-0.0481],[-0.0150,-0.0232],[-0.0143,-0.0552],[-0.0113,-0.0339],[-0.0094,-0.0173],[-0.0075,0.0111],[-0.0068,0.0040],[-0.0057,-0.0434],[-0.0038,-0.0505],[-0.0019,-0.0078],[0.0000,-0.0351],[0.0019,-0.0540],[0.0037,-0.0422],[0.0055,-0.0220],[0.0074,-0.0446],[0.0093,-0.0351],[0.0112,0.0017],[0.0130,-0.0173],[0.0149,-0.0422],[0.0168,0.0147],[0.0186,-0.0505],[0.0205,-0.0114],[0.0261,-0.0102],[0.0280,-0.0126],[0.0317,-0.0220],[0.0336,-0.0493],[0.0355,-0.0351],[0.0392,-0.0043],[0.0429,-0.0055],[0.0504,-0.0043],[0.0579,-0.0019],[0.0579,-0.0073],[0.0710,-0.0145],[-0.0094,0.0017],[-0.0187,-0.0031],[0.0224,-0.0007],[0.0112,-0.0055],[0.0019,-0.0102],[-0.0262,-0.0078],[-0.0337,-0.0291],[-0.0449,-0.0422],[-0.0673,-0.0505],[-0.0038,-0.0149],[-0.0280,-0.0481]];
const dDiam=[[-0.1196,0.0661],[-0.1428,0.0360],[-0.1428,0.0265],[-0.1121,0.0289],[-0.1047,0.0431],[-0.0991,0.0455],[-0.1084,0.0230],[-0.0673,0.0431],[-0.0748,0.0301],[-0.0924,0.0230],[-0.1178,0.0206],[-0.1159,0.0064],[-0.1234,-0.0066],[-0.1010,-0.0149],[-0.0916,-0.0310],[-0.0841,-0.0019],[-0.0823,0.0052],[-0.0337,0.0550],[-0.0169,0.0716],[0.0261,0.0621],[-0.0150,0.0372],[-0.0019,0.0408],[-0.0187,0.0301],[-0.0038,0.0301],[0.0112,0.0336],[0.0261,0.0325],[0.0448,0.0467],[-0.0411,0.0313],[-0.0356,0.0123],[-0.1047,0.0159],[-0.0861,-0.0126],[-0.0748,0.0040],[-0.0561,-0.0102],[-0.0505,-0.0055],[-0.0636,-0.0149],[0.0336,0.0562]];
const dBoundTop=[[0.0590,0.1000],[0.0522,0.0905],[0.0466,0.0822]];
const dBoundEllipse=[[-0.1346,0.0265],[-0.1309,0.0396],[-0.1159,0.0514],[-0.0935,0.0597],[-0.0636,0.0656],[-0.0337,0.0692],[-0.0038,0.0739],[0.0261,0.0799],[0.0466,0.0822],[0.0672,0.0846],[0.0859,0.0810],[0.0926,0.0775],[0.0859,0.0704],[0.0709,0.0585],[0.0560,0.0479],[0.0373,0.0348],[0.0223,0.0218],[-0.0038,0.0159],[-0.0262,0.0111],[-0.0412,0.0076],[-0.0673,0.0040],[-0.0898,0.0036],[-0.1085,0.0069],[-0.1234,0.0123],[-0.1328,0.0182]];
const dBoundOuter=[[-0.2000,0.0005],[-0.1757,-0.0078],[-0.1533,-0.0145],[-0.1234,-0.0220],[-0.1010,-0.0225],[-0.0748,-0.0173],[-0.0524,-0.0114]];
const dBoundLow=[[-0.2000,-0.0114],[-0.1795,-0.0097],[-0.1757,-0.0078]];
const dBoundInner=[[-0.0262,0.0083],[-0.0393,-0.0019],[-0.0524,-0.0114]];
const dBoundWedgeLow=[[-0.0524,-0.0114],[-0.0225,-0.0173],[0.0074,-0.0244],[0.0336,-0.0315],[0.0635,-0.0386],[0.0934,-0.0429],[0.1102,-0.0445]];
const dBoundWedgeUp=[[0.0223,0.0218],[0.0410,0.0100],[0.0635,-0.0050],[0.0859,-0.0216],[0.1102,-0.0445]];
const dBoundDown=[[0.1102,-0.0445],[0.1233,-0.0600],[0.1326,-0.0765],[0.1374,-0.0908],[0.1389,-0.1002],[0.1382,-0.1239],[0.1363,-0.1500]];

// ---------------- (h) ----------------
const hXTicks=[-0.4,-0.3,-0.2,-0.1,0,0.1,0.2,0.3];
const hYTicks=[-0.08,-0.06,-0.04,-0.02,0,0.02,0.04,0.06,0.08,0.1,0.12];
const hCross=[[0.1146,0.0264],[0.1198,0.0184],[0.1172,0.0156],[0.1067,0.0146],[0.1093,0.0127],[0.1041,0.0099],[0.1198,0.0051],[0.1198,-0.0054],[0.1277,-0.0041],[0.1277,0.0117],[0.1329,0.0108],[0.1355,0.0112],[0.1381,0.0307],[0.1433,0.0307],[0.1407,0.0222],[0.1277,0.0222],[0.1433,0.0222],[0.1448,0.0022],[0.1511,0.0332],[0.1537,0.0313],[0.1563,0.0112],[0.1604,-0.0102],[0.1531,-0.0253],[0.1604,-0.0623],[0.1615,0.0003],[0.1667,0.0260],[0.1677,0.0089],[0.1693,0.0098],[0.1745,0.0421],[0.1782,0.0345],[0.1782,0.0136],[0.1771,0.0003],[0.1813,-0.0174],[0.1797,-0.0339],[0.1824,-0.0320],[0.1667,-0.0424],[0.1839,0.0013],[0.1855,-0.0025],[0.1876,0.0051],[0.1897,0.0098],[0.1918,0.0421],[0.1928,0.0440],[0.1918,-0.0187],[0.1944,-0.0048],[0.1955,0.0241],[0.2007,0.0079],[0.2043,0.0003],[0.2059,0.0089],[0.2085,0.0184],[0.2095,0.0146],[0.2137,0.0450],[0.1772,0.0089],[0.1839,-0.0054],[0.1720,0.0146],[0.0937,-0.0054],[0.1292,0.0003],[0.1198,0.0270]];
const hStar=[[-0.0787,-0.0652],[-0.0641,-0.0595],[-0.0448,-0.0700],[-0.0396,-0.0605],[-0.0317,-0.0462],[-0.0275,-0.0766],[-0.0265,-0.0652],[-0.0239,-0.0509],[-0.0187,-0.0424],[-0.0171,-0.0690],[-0.0134,-0.0595],[-0.0108,-0.0500],[-0.0066,-0.0633],[-0.0056,-0.0376],[-0.0030,-0.0405],[-0.0004,-0.0671],[0.0038,-0.0595],[0.0048,-0.0462],[0.0090,-0.0405],[0.0101,-0.0709],[0.0127,-0.0633],[0.0153,-0.0557],[0.0205,-0.0652],[0.0257,-0.0529],[0.0283,-0.0614],[0.0336,-0.0681],[0.0362,-0.0586],[0.0414,-0.0500],[0.0467,-0.0614],[0.0493,-0.0757],[0.0519,-0.0557],[0.0545,-0.0471],[0.0597,-0.0595],[0.0676,-0.0424],[0.0728,-0.0443],[0.0911,-0.0452],[0.0833,-0.0709],[-0.0369,-0.0557],[-0.0213,-0.0576],[-0.0056,-0.0709],[0.0179,-0.0681],[0.0441,-0.0652],[-0.0474,-0.0633],[-0.0327,-0.0643],[-0.0017,-0.0557],[0.0231,-0.0481]];
const hDot=[[-0.0045,0.0099],[0.0702,0.0099],[0.0216,0.0036],[0.0477,-0.0006],[0.0624,-0.0025],[0.0833,-0.0006],[0.0389,-0.0048],[0.0598,-0.0063],[0.0718,-0.0035],[0.0780,-0.0073],[0.0885,-0.0063],[0.0519,-0.0092],[0.0650,-0.0111],[0.0833,-0.0105],[0.0937,-0.0117],[0.0337,-0.0111],[0.0467,-0.0140],[0.0363,-0.0173],[0.0545,-0.0159],[0.0676,-0.0173],[0.0911,-0.0162],[0.0284,-0.0162],[0.0493,-0.0206],[0.0624,-0.0215],[0.0780,-0.0215],[0.0937,-0.0219],[0.0180,-0.0282],[0.0441,-0.0244],[0.0545,-0.0263],[0.0676,-0.0291],[0.0885,-0.0282],[0.0311,-0.0310],[0.0467,-0.0301],[0.0598,-0.0320],[0.0728,-0.0348],[0.0833,-0.0358],[0.0389,-0.0358],[0.0519,-0.0377],[0.0650,-0.0396],[0.0807,-0.0424],[0.0048,-0.0215],[0.0153,-0.0178],[0.0415,-0.0215],[0.1067,-0.0282],[0.1083,-0.0082],[0.1015,0.0013]];
const hSquare=[[-0.0787,0.0677],[-0.0798,0.0654],[-0.0761,0.0629],[-0.0839,0.0582],[-0.0735,0.0611],[-0.0683,0.0582],[-0.0500,0.0711],[-0.0604,0.0635],[-0.0552,0.0601],[-0.0447,0.0611],[-0.0369,0.0601],[-0.0526,0.0573],[-0.0630,0.0554],[-0.0238,0.0668],[-0.0186,0.0668],[-0.0264,0.0592],[-0.0160,0.0601],[-0.0056,0.0592],[0.0075,0.0643],[-0.0683,0.0507],[-0.0604,0.0535],[-0.0526,0.0529],[-0.0474,0.0507],[-0.0395,0.0554],[-0.0369,0.0507],[-0.0343,0.0478],[-0.0317,0.0526],[-0.0264,0.0497],[-0.0212,0.0526],[-0.0160,0.0488],[-0.0108,0.0516],[-0.0082,0.0469],[-0.0030,0.0497],[-0.0004,0.0440],[0.0048,0.0478],[0.0127,0.0516],[0.0205,0.0478],[0.0257,0.0526],[0.0309,0.0573],[0.0388,0.0592],[0.0414,0.0554],[0.0362,0.0526],[0.0466,0.0469],[0.0519,0.0431],[0.0571,0.0459],[0.0754,0.0459],[0.0597,0.0370],[0.0676,0.0336],[0.0822,0.0298],[0.0283,0.0431],[0.0336,0.0374],[0.0179,0.0431],[0.0075,0.0412],[-0.0212,0.0431],[-0.0291,0.0412],[-0.0134,0.0374],[0.0048,0.0374],[0.0101,0.0431],[-0.0343,0.0336],[-0.0264,0.0364],[0.0022,0.0294],[-0.1466,0.0450],[-0.1440,0.0497],[-0.1309,0.0393],[-0.1283,0.0435],[-0.1126,0.0408],[-0.1058,0.0307],[-0.0996,0.0298],[-0.0917,0.0336],[-0.0917,0.0294],[-0.1805,0.0307],[-0.1388,0.0193],[-0.1283,0.0193],[-0.1179,0.0193],[-0.0813,0.0231],[-0.0761,0.0203],[-0.0683,0.0241],[-0.0552,0.0199],[-0.0447,0.0245],[-0.0839,0.0180],[-0.0604,0.0118],[-0.0301,0.0184],[-0.0291,0.0093],[-0.2343,0.0180]];
const hDiam=[[-0.2851,0.0374],[-0.2720,0.0378],[-0.2956,0.0250],[-0.2731,0.0273],[-0.2407,0.0256],[-0.2329,0.0127],[-0.2156,0.0212],[-0.2589,0.0066],[-0.2261,0.0032],[-0.2224,0.0104],[-0.2094,0.0098],[-0.2052,0.0070],[-0.1989,0.0066],[-0.1832,0.0079],[-0.1780,0.0123],[-0.1519,0.0117],[-0.2825,-0.0154],[-0.2198,-0.0083],[-0.1989,-0.0064],[-0.1937,-0.0025],[-0.1874,-0.0006],[-0.1806,-0.0064],[-0.1754,-0.0102],[-0.1676,-0.0010],[-0.1623,-0.0073],[-0.1529,-0.0006],[-0.1466,-0.0054],[-0.1414,-0.0102],[-0.1351,-0.0121],[-0.1309,-0.0159],[-0.1257,-0.0187],[-0.1179,-0.0234],[-0.1058,-0.0197],[-0.0943,-0.0159],[-0.0995,-0.0225],[-0.0891,-0.0238],[-0.0734,-0.0225],[-0.0656,-0.0238],[-0.2276,-0.0206],[-0.2224,-0.0215],[-0.2146,-0.0178],[-0.2094,-0.0301],[-0.2120,-0.0344],[-0.2104,-0.0401],[-0.1999,-0.0310],[-0.1910,-0.0140],[-0.1780,-0.0301],[-0.1686,-0.0282],[-0.1545,-0.0288],[-0.1519,-0.0325],[-0.1205,-0.0320],[-0.1623,-0.0192],[-0.1702,-0.0121],[-0.2772,-0.0291],[-0.2731,-0.0306],[-0.2731,-0.0367],[-0.2668,-0.0310],[-0.3018,-0.0386],[-0.2511,-0.0420],[-0.2407,-0.0415],[-0.2094,-0.0386],[-0.1832,-0.0178],[-0.1910,-0.0064],[-0.2015,0.0013],[-0.1519,-0.0140],[-0.1309,-0.0083]];
const hBoundLeft=[[-0.2981,0.1200],[-0.2876,0.0982],[-0.2667,0.0792],[-0.2355,0.0602],[-0.1937,0.0412],[-0.1519,0.0260],[-0.1101,0.0108],[-0.0787,-0.0025],[-0.0500,-0.0135]];
const hBoundMid=[[-0.0500,-0.0135],[-0.0213,-0.0116],[-0.0082,-0.0106]];
const hBoundDown=[[-0.0500,-0.0135],[-0.0526,-0.0216],[-0.0605,-0.0367],[-0.0709,-0.0519],[-0.0866,-0.0671],[-0.0997,-0.0800]];
const hBoundUpRight=[[-0.0082,-0.0106],[0.0048,-0.0006],[0.0257,0.0108],[0.0519,0.0212],[0.0780,0.0298],[0.1000,0.0370]];
const hBoundWedge=[[-0.0082,-0.0106],[-0.0161,-0.0158],[-0.0239,-0.0234],[-0.0056,-0.0310],[0.0257,-0.0395],[0.0571,-0.0462],[0.0884,-0.0528],[0.1119,-0.0580],[0.1292,-0.0595]];
const hBoundRight=[[0.1433,0.1200],[0.1328,0.0925],[0.1172,0.0602],[0.1067,0.0431],[0.1015,0.0383],[0.1000,0.0370],[0.1093,0.0203],[0.1172,-0.0063],[0.1240,-0.0329],[0.1277,-0.0500],[0.1292,-0.0595],[0.1188,-0.0595],[0.1209,-0.0690],[0.1240,-0.0800]];

// ---------------- panel layout ----------------
const panels=[
 {left:25,right:473,top:32,bottom:385,xd:[-6,8],yd:[-3,3],xt:aXTicks,yt:aYTicks,title:'ERROR: 0.090278',cap:'(a)',capY:423,exp:true,
  series:[['circle','0.5%',aCircle],['star','0.75%',aStar]],
  bounds:[[aBound1,'s'],[aBound2,'s'],[aBound3,'s']]},
 {left:543,right:991,top:32,bottom:385,xd:[-5,3],yd:[-3,5],xt:eXTicks,yt:eYTicks,title:'ERROR: 0',cap:'(e)',capY:423,exp:true,
  series:[['circle','0.5%',eCircle],['star','0.75%',eStar]],
  bounds:[[eBound,'l']]},
 {left:38,right:484,top:472,bottom:823,xd:[-0.15,0.1],yd:[-0.15,0.25],xt:bXTicks,yt:bYTicks,title:'ERROR: 0.064394',cap:'(b)',capY:864,
  series:[['cross','0.25%',bCross],['tri','6%',bTri],['diam','24%',bDiam]],
  bounds:[[bBoundArc,'s'],[bBoundRight,'s'],[bBoundLeft,'s']]},
 {left:544,right:988,top:472,bottom:821,xd:[-0.3,0.15],yd:[-0.1,0.25],xt:fXTicks,yt:fYTicks,title:'ERROR: 0.0075758',cap:'(f)',capY:868,
  series:[['cross','0.25%',fCross],['tri','6%',fTri],['diam','24%',fDiam]],
  bounds:[[fBoundTop,'l'],[fBoundLeft,'l'],[fBoundRight,'l']]},
 {left:43,right:482,top:921,bottom:1266,xd:[-0.04,0.04],yd:[-0.015,0.01],xt:cXTicks,yt:cYTicks,title:'ERROR: 0.15179',cap:'(c)',capY:1306,
  series:[['star','0.75%',cStar],['dot','1%',cDot],['tri','6%',cTri],['diam','24%',cDiam]],
  bounds:[[cBoundA,'c'],[cBoundB,'c'],[cHole1,'c'],[cBoundC,'c'],[cBoundD,'c'],[cBoundE,'c'],[cBoundF,'c'],[cHole2,'c'],[cHole3,'c']]},
 {left:548,right:986,top:921,bottom:1267,xd:[-0.06,0.08],yd:[-0.025,0.02],xt:gXTicks,yt:gYTicks,title:'ERROR: 0.020833',cap:'(g)',capY:1306,
  series:[['star','0.75%',gStar],['dot','1%',gDot],['tri','6%',gTri],['diam','24%',gDiam]],
  bounds:[[gBoundCorner,'l'],[gBoundLeft,'s'],[gBoundTop,'s'],[gBoundDown,'s'],[gBoundRight,'s']]},
 {left:38,right:484,top:1362,bottom:1713,xd:[-0.2,0.3],yd:[-0.15,0.1],xt:dXTicks,yt:dYTicks,title:'ERROR: 0.32598',cap:'(d)',capY:1760,
  series:[['cross','0.25%',dCross],['star','0.75%',dStar],['dot','1%',dDot],['square','12%',dSquare],['diam','24%',dDiam]],
  bounds:[[dBoundTop,'s'],[dBoundEllipse,'c'],[dBoundOuter,'s'],[dBoundLow,'s'],[dBoundInner,'s'],[dBoundWedgeLow,'s'],[dBoundWedgeUp,'s'],[dBoundDown,'s']]},
 {left:535,right:982,top:1362,bottom:1713,xd:[-0.4,0.3],yd:[-0.08,0.12],xt:hXTicks,yt:hYTicks,title:'ERROR: 0.034314',cap:'(h)',capY:1759,
  series:[['cross','0.25%',hCross],['star','0.75%',hStar],['dot','1%',hDot],['square','12%',hSquare],['diam','24%',hDiam]],
  bounds:[[hBoundLeft,'s'],[hBoundMid,'l'],[hBoundDown,'s'],[hBoundUpRight,'s'],[hBoundWedge,'l'],[hBoundRight,'l']]}
];

const svg=d3.select('#chart');
svg.append('rect').attr('width',999).attr('height',1764).attr('fill','#fff');
const FONT='"Liberation Sans", Arial, Helvetica, sans-serif';
const fmt=v=>String(+(+v).toFixed(6));

const shapes={
 tri:'M0,-5L5.3,3.9L-5.3,3.9Z',
 diam:'M0,-5.4L4.5,0L0,5.4L-4.5,0Z',
 square:'M-3.9,-3.9H3.9V3.9H-3.9Z',
 cross:'M-3.1,-3.1L3.1,3.1M-3.1,3.1L3.1,-3.1',
 star:'M-4.1,0H4.1M0,-4.1V4.1M-2.9,-2.9L2.9,2.9M-2.9,2.9L2.9,-2.9'
};
const legendShapes={
 tri:'M0,-4.2L4.4,3.3L-4.4,3.3Z',
 diam:'M0,-4.6L3.8,0L0,4.6L-3.8,0Z',
 square:'M-3.6,-3.6H3.6V3.6H-3.6Z',
 cross:'M-2.7,-2.7L2.7,2.7M-2.7,2.7L2.7,-2.7',
 star:'M-3.6,0H3.6M0,-3.6V3.6M-2.5,-2.5L2.5,2.5M-2.5,2.5L2.5,-2.5'
};
const styles={
 circle:{stroke:'#2a2a2a',w:1.5},
 star:{stroke:'#9a9a9a',w:1.7},
 cross:{stroke:'#505050',w:1.35},
 tri:{stroke:'#969696',w:1.2},
 diam:{stroke:'#969696',w:1.2},
 square:{stroke:'#181818',w:1.6},
 dot:{fill:'#4a4a4a'}
};
function drawMarker(g,kind,x,y,legend){
  if(kind==='circle'){
    g.append('circle').attr('cx',x).attr('cy',y).attr('r',legend?4.2:4.6).attr('fill','none').attr('stroke',styles.circle.stroke).attr('stroke-width',styles.circle.w);
  } else if(kind==='dot'){
    g.append('circle').attr('cx',x).attr('cy',y).attr('r',1.2).attr('fill',styles.dot.fill);
  } else {
    g.append('path').attr('d',(legend?legendShapes:shapes)[kind]).attr('transform',`translate(${x},${y})`).attr('fill','none').attr('stroke',styles[kind].stroke).attr('stroke-width',styles[kind].w);
  }
}

panels.forEach((p,i)=>{
  const x=d3.scaleLinear().domain(p.xd).range([p.left,p.right]);
  const y=d3.scaleLinear().domain(p.yd).range([p.bottom,p.top]);
  const g=svg.append('g');
  const clipId='clip'+i;
  svg.append('clipPath').attr('id',clipId).append('rect').attr('x',p.left).attr('y',p.top).attr('width',p.right-p.left).attr('height',p.bottom-p.top);

  const styleAxis=sel=>{
    sel.select('.domain').remove();
    sel.selectAll('.tick line').attr('stroke','#777').attr('stroke-width',0.9);
    sel.selectAll('.tick text').attr('fill','#333').style('font-family',FONT).style('font-size','10px');
  };
  g.append('g').attr('transform',`translate(0,${p.bottom})`).call(d3.axisBottom(x).tickValues(p.xt).tickFormat(fmt).tickSizeInner(-5).tickSizeOuter(0).tickPadding(5)).call(styleAxis);
  g.append('g').attr('transform',`translate(${p.left},0)`).call(d3.axisLeft(y).tickValues(p.yt).tickFormat(fmt).tickSizeInner(-5).tickSizeOuter(0).tickPadding(5)).call(styleAxis);
  g.append('g').attr('transform',`translate(0,${p.top})`).call(d3.axisTop(x).tickValues(p.xt).tickFormat('').tickSizeInner(-5).tickSizeOuter(0)).call(styleAxis);
  g.append('g').attr('transform',`translate(${p.right},0)`).call(d3.axisRight(y).tickValues(p.yt).tickFormat('').tickSizeInner(-5).tickSizeOuter(0)).call(styleAxis);

  const mg=g.append('g').attr('clip-path',`url(#${clipId})`);
  p.series.forEach(([kind,label,data])=>{
    data.forEach(d=>drawMarker(mg,kind,x(d[0]),y(d[1]),false));
  });

  const bg=g.append('g').attr('clip-path',`url(#${clipId})`);
  p.bounds.forEach(([pts,type])=>{
    const curve= type==='c'? d3.curveCatmullRomClosed.alpha(0.5) : type==='s'? d3.curveCatmullRom.alpha(0.5) : d3.curveLinear;
    const line=d3.line().x(d=>x(d[0])).y(d=>y(d[1])).curve(curve);
    bg.append('path').attr('d',line(pts)).attr('fill','none').attr('stroke','#111').attr('stroke-width',2.2).attr('stroke-linejoin','round');
  });

  g.append('rect').attr('x',p.left).attr('y',p.top).attr('width',p.right-p.left).attr('height',p.bottom-p.top).attr('fill','none').attr('stroke','#888').attr('stroke-width',1);

  const n=p.series.length;
  const lw=87, lh=23+(n-1)*19;
  const lx=p.right-5-lw, ly=p.top+5;
  const lg=g.append('g');
  lg.append('rect').attr('x',lx).attr('y',ly).attr('width',lw).attr('height',lh).attr('fill','#fff').attr('stroke','#6a6a6a').attr('stroke-width',1.2);
  p.series.forEach(([kind,label],k)=>{
    const cy=ly+12+k*19;
    drawMarker(lg,kind,lx+20,cy,true);
    lg.append('text').attr('x',lx+38).attr('y',cy+5.7).text(label).style('font-family',FONT).style('font-size','16px').attr('fill','#111');
  });

  g.append('text').attr('x',(p.left+p.right)/2).attr('y',p.top-10).attr('text-anchor','middle').text(p.title).style('font-family',FONT).style('font-size','15.5px').attr('fill','#111');
  g.append('text').attr('x',(p.left+p.right)/2).attr('y',p.capY).attr('text-anchor','middle').text(p.cap).style('font-family','"Liberation Serif", "Times New Roman", serif').style('font-size','18px').attr('fill','#111');

  if(p.exp){
    const t1=g.append('text').attr('x',p.left+1).attr('y',p.top-5).style('font-family',FONT).style('font-size','9px').attr('fill','#444');
    t1.append('tspan').text('x 10');
    t1.append('tspan').attr('dy',-4).style('font-size','6.5px').text('-3');
    const t2=g.append('text').attr('x',p.right-27).attr('y',p.bottom+28).style('font-family',FONT).style('font-size','9px').attr('fill','#444');
    t2.append('tspan').text('x 10');
    t2.append('tspan').attr('dy',-4).style('font-size','6.5px').text('-3');
  }
});
</script>
</body></html>
